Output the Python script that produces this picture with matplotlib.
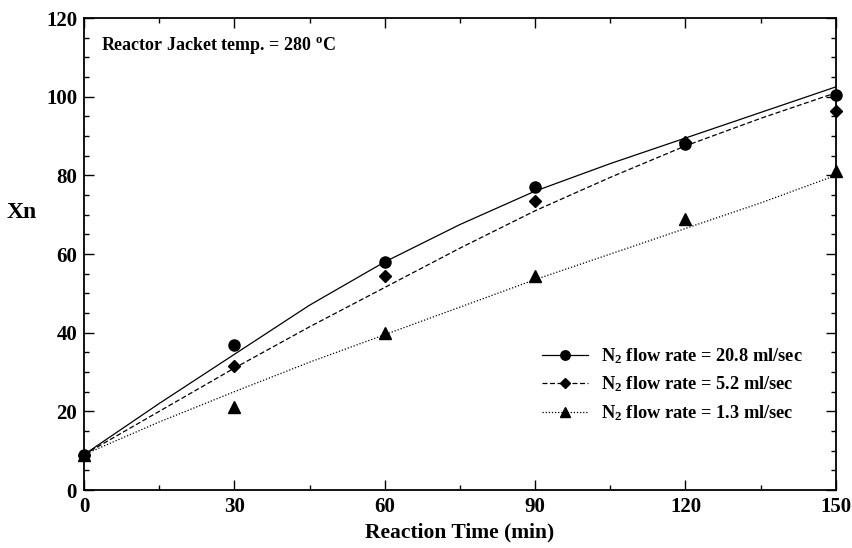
import numpy as np
import matplotlib
matplotlib.use('Agg')
import matplotlib.pyplot as plt
from matplotlib.ticker import MultipleLocator

plt.rcParams['font.family'] = ['Liberation Serif', 'DejaVu Serif']
plt.rcParams['font.weight'] = 'bold'
plt.rcParams['mathtext.fontset'] = 'custom'
plt.rcParams['mathtext.rm'] = 'Liberation Serif:bold'
plt.rcParams['mathtext.bf'] = 'Liberation Serif:bold'
plt.rcParams['mathtext.it'] = 'Liberation Serif:bold'

# measured points
time_pts = [0, 30, 60, 90, 120, 150]
xn_208 = [9, 37, 58, 77, 88, 100.5]
xn_52 = [9, 31.5, 54.5, 73.5, 88.5, 96.5]
xn_13 = [9, 21, 40, 54.5, 69, 81]

# model curves
time_fit = [0, 15, 30, 45, 60, 75, 90, 105, 120, 135, 150]
fit_208 = [9, 22, 34.5, 47, 58, 67.5, 76, 83, 89.5, 96, 102.5]
fit_52 = [9, 20, 31, 41.5, 51.5, 61.5, 71, 79.5, 87.5, 94.5, 101]
fit_13 = [9, 17.3, 25, 32.5, 39.5, 46.5, 53.5, 60, 66.5, 73, 80]

labels = ['N$_2$ flow rate = 20.8 ml/sec',
          'N$_2$ flow rate = 5.2 ml/sec',
          'N$_2$ flow rate = 1.3 ml/sec']


def main():
    fig, ax = plt.subplots(figsize=(8.52, 5.48), dpi=100)
    fig.subplots_adjust(left=0.0986, right=0.981, top=0.967, bottom=0.1058)

    styles = [('-', 'o', 8, fit_208, xn_208),
              ((0, (4, 2)), 'D', 6, fit_52, xn_52),
              ((0, (1, 1.5)), '^', 8, fit_13, xn_13)]
    handles = []
    for (ls, mk, ms, fit, pts), lab in zip(styles, labels):
        ax.plot(time_fit, fit, color='black', lw=0.9, ls=ls)
        ax.plot(time_pts, pts, mk, color='black', ms=ms, clip_on=False, zorder=3)
        h, = ax.plot([], [], color='black', lw=0.9, ls=ls, marker=mk,
                     ms=ms * 0.85, label=lab)
        handles.append(h)

    ax.set_xlim(0, 150)
    ax.set_ylim(0, 120)
    ax.xaxis.set_major_locator(MultipleLocator(30))
    ax.xaxis.set_minor_locator(MultipleLocator(15))
    ax.yaxis.set_major_locator(MultipleLocator(20))
    ax.yaxis.set_minor_locator(MultipleLocator(5))
    ax.tick_params(which='both', direction='in', top=True, right=True,
                   labelsize=15, width=1)
    ax.tick_params(which='major', length=7, pad=5)
    ax.tick_params(which='minor', length=3.5)
    for s in ax.spines.values():
        s.set_linewidth(1.3)

    ax.set_xlabel('Reaction Time (min)', fontsize=15.5, fontweight='bold', labelpad=4)
    ax.set_ylabel('Xn', fontsize=17, fontweight='bold', rotation=0, va='center')
    ax.yaxis.set_label_coords(-0.083, 0.587)

    ax.text(0.022, 0.965, r'Reactor Jacket temp. = 280 $^{\mathrm{o}}$C',
            transform=ax.transAxes, fontsize=13, fontweight='bold', va='top')

    ax.legend(handles=handles, loc='upper left', bbox_to_anchor=(0.6, 0.32),
              frameon=False, fontsize=13.2, handlelength=2.5, handletextpad=0.7,
              labelspacing=0.47, borderaxespad=0)

    plt.savefig('out.png', dpi=100)


if __name__ == '__main__':
    main()
